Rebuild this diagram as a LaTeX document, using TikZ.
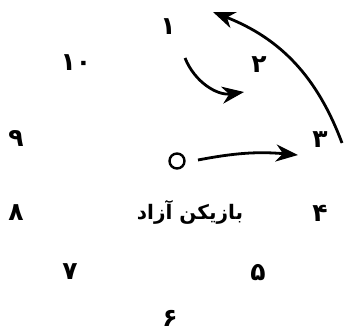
\documentclass[tikz,border=0pt]{standalone}
\usepackage{fontspec}
\newfontfamily\arabicfont[Script=Arabic]{DejaVu Sans}
\TeXXeTstate=1
\usetikzlibrary{arrows.meta}
\tikzset{
  num/.style={font=\arabicfont\bfseries\fontsize{25}{28}\selectfont, inner sep=0pt},
  lbl/.style={font=\arabicfont\bfseries\fontsize{20}{24}\selectfont, inner sep=0pt},
  mv/.style={-{Stealth[length=22pt, width=17pt, inset=7pt]}, line width=2.8pt},
}

\begin{document}
\begin{tikzpicture}[x=1pt, y=-1pt]
  \useasboundingbox (0,0) rectangle (344,334);
  % positions around the circle
  \node[num] (n1)  at (168,27)  {۱};
  \node[num] (n2)  at (259,65)  {۲};
  \node[num] (n3)  at (320,140) {۳};
  \node[num] (n4)  at (320,213) {۴};
  \node[num] (n5)  at (258,273) {۵};
  \node[num] (n6)  at (170,318) {۶};
  \node[num] (n7)  at (70,272)  {۷};
  \node[num] (n8)  at (16,213)  {۸};
  \node[num] (n9)  at (16,138)  {۹};
  \node[num] (n10) at (76,63)   {۱۰};
  % free player
  \node[draw, circle, line width=2.4pt, minimum size=15pt, inner sep=0pt] (free) at (177,161) {};
  \node[lbl] (freelbl) at (190,212) {\beginR بازیکن آزاد\endR};
  % arrow ends
  \coordinate (a1) at (185,58);
  \coordinate (a2) at (244,92);
  \coordinate (b1) at (198,160);
  \coordinate (b2) at (298,155);
  \coordinate (c1) at (342,143);
  \coordinate (c2) at (213,12);
  \draw[mv] (a1) to[bend right=38] (a2);
  \draw[mv] (b1) to[bend left=8] (b2);
  \draw[mv] (c1) to[bend right=24] (c2);
\end{tikzpicture}
\end{document}
